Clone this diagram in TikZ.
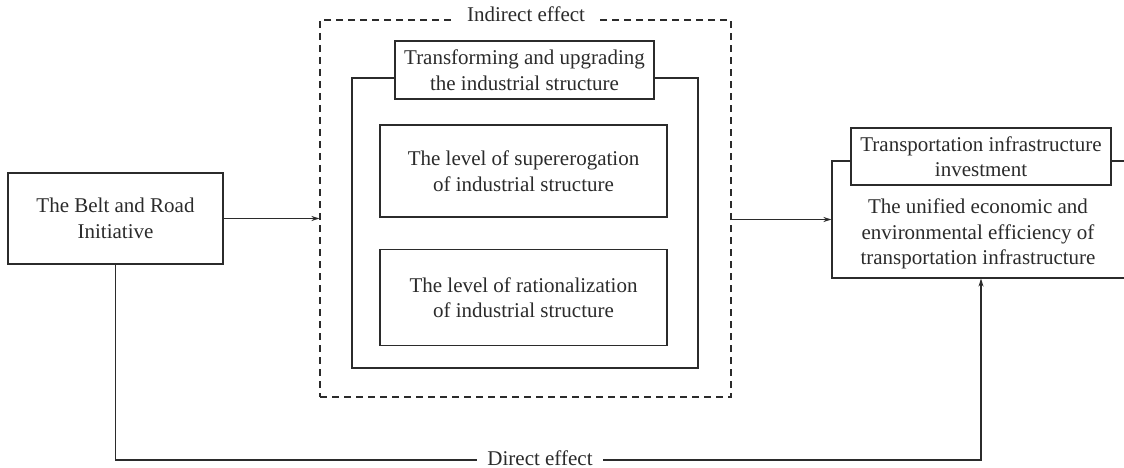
\documentclass[tikz,border=0pt]{standalone}
\usepackage{fontspec}
\setmainfont{Liberation Serif}
\usetikzlibrary{arrows.meta}
\definecolor{ink}{HTML}{2B2B2B}
\begin{document}
\begin{tikzpicture}[x=1pt,y=-1pt,
  every node/.style={font=\fontsize{21}{25.5}\selectfont, text=ink, align=center, inner sep=0pt},
  box/.style={draw=ink, line width=1.1pt, fill=white},
  conn/.style={draw=ink, line width=1.1pt},
  arr/.style={conn, -{Stealth[length=8pt,width=5pt]}},
  lbl/.style={fill=white, inner xsep=8pt, inner ysep=4pt}]
\useasboundingbox (0,0) rectangle (1124,468);
% dashed indirect box
\node[draw=ink, line width=1.1pt, dash pattern=on 7pt off 5pt, minimum width=411pt, minimum height=377pt] (ind) at (525.5,208.5) {};
\node[lbl, inner xsep=14pt] (indl) at (526,14) {Indirect effect};
% inner solid box
\node[box, minimum width=346pt, minimum height=290pt] (inner) at (525,223) {};
\node[box, minimum width=259pt, minimum height=58pt] (tr) at (524.5,70) {Transforming and upgrading\\the industrial structure};
\node[box, minimum width=287pt, minimum height=92pt] (sup) at (523.5,171) {The level of supererogation\\of industrial structure};
\node[box, minimum width=287pt, minimum height=96pt] (rat) at (523.5,297.5) {The level of rationalization\\of industrial structure};
% left box
\node[box, minimum width=215pt, minimum height=91pt] (bri) at (115.5,218.5) {The Belt and Road\\Initiative};
% right outcome box
\node[box, minimum width=298pt, minimum height=117pt] (out) at (981,219.5) {};
\node[box, minimum width=260pt, minimum height=57pt] (tii) at (981,156.5) {Transportation infrastructure\\investment};
\node (eff) at (978,234) {The unified economic and\\environmental efficiency of\\transportation infrastructure};
% connectors
\draw[arr] (bri.east) -- (bri.east -| ind.west);
\draw[arr] (out.west -| ind.east) -- (out.west);
\coordinate (bot) at (0,460);
\draw[arr] (bri.south) -- (bri.south |- bot) -- (out.south |- bot) -- (out.south);
\node[lbl, inner xsep=10pt] (dir) at (540,458) {Direct effect};
\end{tikzpicture}
\end{document}
